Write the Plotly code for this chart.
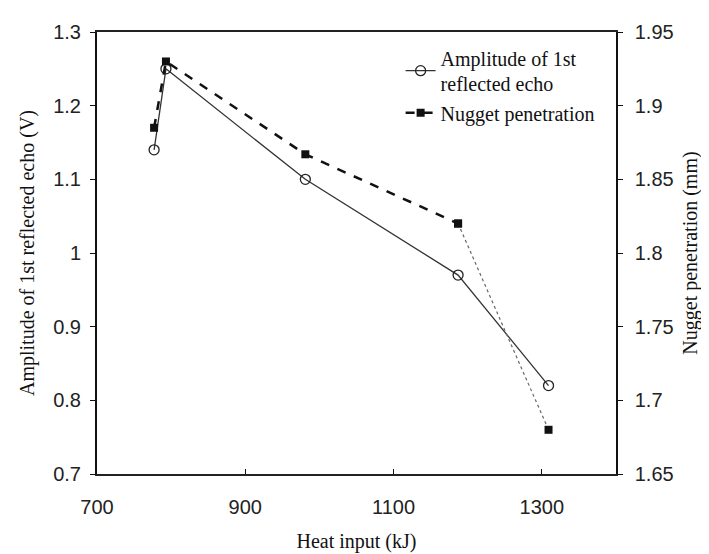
import plotly.graph_objects as go

heat_input = [777, 793, 981, 1187, 1309]
amplitude = [1.14, 1.25, 1.10, 0.97, 0.82]
nugget = [1.885, 1.930, 1.867, 1.820, 1.680]

x_ticks = [700, 900, 1100, 1300]
left_ticks = [0.7, 0.8, 0.9, 1.0, 1.1, 1.2, 1.3]
left_labels = ["0.7", "0.8", "0.9", "1", "1.1", "1.2", "1.3"]
right_ticks = [1.65, 1.7, 1.75, 1.8, 1.85, 1.9, 1.95]
right_labels = ["1.65", "1.7", "1.75", "1.8", "1.85", "1.9", "1.95"]

serif = "Liberation Serif, Times New Roman, serif"
sans = "Liberation Sans, Arial, sans-serif"

fig = go.Figure()

fig.add_trace(go.Scatter(
    x=heat_input, y=amplitude, mode="lines+markers",
    name="Amplitude of 1st<br>reflected echo", legendgroup="a",
    line=dict(color="#333333", width=1.3),
    marker=dict(symbol="circle-open", size=10, color="#222222", line=dict(width=1.3)),
))

fig.add_trace(go.Scatter(
    x=heat_input[3:], y=nugget[3:], mode="lines+markers",
    showlegend=False, yaxis="y2", legendgroup="b",
    line=dict(color="#666666", width=1.2, dash="dot"),
    marker=dict(symbol="square", size=8, color="#111111"),
))

fig.add_trace(go.Scatter(
    x=heat_input[:4], y=nugget[:4], mode="lines+markers",
    name="Nugget penetration", yaxis="y2", legendgroup="b",
    line=dict(color="#111111", width=2.5, dash="dash"),
    marker=dict(symbol="square", size=8, color="#111111"),
))

fig.update_layout(
    template="none",
    width=709, height=554,
    margin=dict(l=89, r=101, t=24, b=88, autoexpand=False),
    paper_bgcolor="white", plot_bgcolor="white",
    showlegend=True,
    legend=dict(
        x=0.585, y=0.986, xanchor="left", yanchor="top",
        bgcolor="rgba(0,0,0,0)", borderwidth=0,
        font=dict(family=serif, size=20, color="#111111"),
        tracegroupgap=0,
    ),
    xaxis=dict(
        range=[700, 1400], tickvals=x_ticks, ticktext=[str(v) for v in x_ticks],
        showgrid=False, zeroline=False, automargin=False,
        showline=True, linecolor="#222222", linewidth=1.5, mirror=True,
        ticks="inside", ticklen=5, tickcolor="#111111",
        ticklabelstandoff=14,
        tickfont=dict(family=sans, size=20, color="#222222"),
        title=dict(text="Heat input (kJ)", font=dict(family=serif, size=20, color="#111111"), standoff=17),
    ),
    yaxis=dict(
        range=[0.7, 1.3], tickvals=left_ticks, ticktext=left_labels,
        showgrid=False, zeroline=False, automargin=False,
        showline=True, linecolor="#111111", linewidth=2,
        ticks="outside", ticklen=5, tickcolor="#111111",
        ticklabelstandoff=5,
        tickfont=dict(family=sans, size=20, color="#222222"),
        title=dict(text="Amplitude of 1st reflected echo (V)", font=dict(family=serif, size=20, color="#111111"), standoff=13),
    ),
    yaxis2=dict(
        range=[1.65, 1.95], tickvals=right_ticks, ticktext=right_labels,
        overlaying="y", side="right",
        showgrid=False, zeroline=False, automargin=False,
        showline=True, linecolor="#111111", linewidth=1.5,
        ticks="outside", ticklen=5, tickcolor="#111111",
        ticklabelstandoff=8,
        tickfont=dict(family=sans, size=20, color="#222222"),
        title=dict(text="Nugget penetration (mm)", font=dict(family=serif, size=20, color="#111111"), standoff=10),
    ),
)

fig.write_html("out.html")
